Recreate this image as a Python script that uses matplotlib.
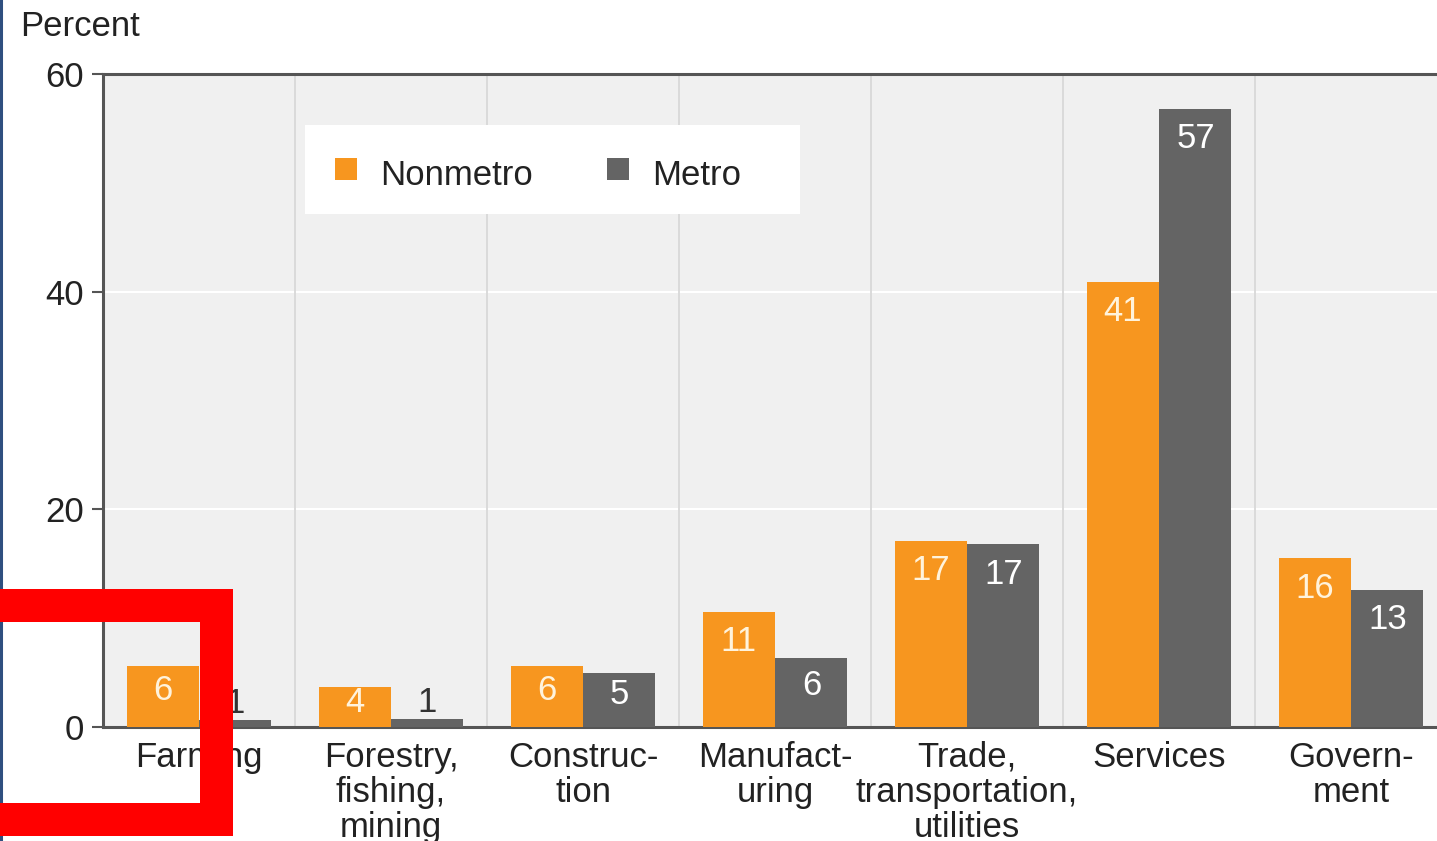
import matplotlib.pyplot as plt
import numpy as np
from matplotlib.lines import Line2D
from matplotlib.patches import Rectangle

plt.rcParams['font.family'] = ['Liberation Sans', 'DejaVu Sans']

# dados
categories = ["Farming", "Forestry,\nfishing,\nmining", "Construc-\ntion",
              "Manufact-\nuring", "Trade,\ntransportation,\nutilities",
              "Services", "Govern-\nment"]
nonmetro = [5.6, 3.7, 5.6, 10.6, 17.1, 40.9, 15.5]
metro = [0.6, 0.7, 5.0, 6.3, 16.8, 56.8, 12.6]
nonmetro_lbl = [6, 4, 6, 11, 17, 41, 16]
metro_lbl = [1, 1, 5, 6, 17, 57, 13]
series_names = ["Nonmetro", "Metro"]

ORANGE = '#F7961F'
GRAY = '#646464'
TXT = '#222222'
FS = 25
W, H = 1437, 841

fig = plt.figure(figsize=(W / 100, H / 100), dpi=100)
# o eixo passa da borda direita (figura original recortada)
ax = fig.add_axes([103 / W, (H - 727) / H, 1344 / W, 653 / H])
ax.set_facecolor('#F0F0F0')

x = np.arange(len(categories))
bw = 0.375
ax.bar(x - 0.19, nonmetro, bw, color=ORANGE, zorder=3)
ax.bar(x + 0.19, metro, bw, color=GRAY, zorder=3)

ax.set_xlim(-0.5, len(categories) - 0.5)
ax.set_ylim(0, 60)
ax.set_yticks([0, 20, 40, 60])
ax.tick_params(axis='y', labelsize=FS, length=8, width=1.5, color='#555555',
               labelcolor=TXT, pad=6)
ax.set_xticks(x)
ax.set_xticklabels(categories, fontsize=FS, color=TXT, linespacing=1.07)
ax.tick_params(axis='x', length=0, pad=10)

# grade: horizontal branca, separadores verticais cinza claro
for yv in [20, 40]:
    ax.axhline(yv, color='white', lw=1.5, zorder=1)
for xv in np.arange(0.5, len(categories) - 0.5):
    ax.axvline(xv, color='#D8D8D8', lw=1.3, zorder=1)

for s in ['left', 'bottom', 'top']:
    ax.spines[s].set_color('#555555')
    ax.spines[s].set_linewidth(2.2)
ax.spines['right'].set_visible(False)

px2pt = 0.72
for i in range(len(categories)):
    for xc, v, lbl, col in [(x[i] - 0.19, nonmetro[i], nonmetro_lbl[i], '#FFF3DC'),
                            (x[i] + 0.19, metro[i], metro_lbl[i], 'white')]:
        hpx = v * 653 / 60
        if v < 2:
            ax.annotate(str(lbl), (xc, v), xytext=(0, 0), textcoords='offset points',
                        ha='center', va='bottom', fontsize=FS, color='#333333', zorder=4)
        else:
            off = min(30, 0.4 * hpx)
            ax.annotate(str(lbl), (xc, v), xytext=(0, -off * px2pt),
                        textcoords='offset points', ha='center', va='center',
                        fontsize=FS, color=col, zorder=4)

# legenda desenhada à mão (caixa branca, quadrados e textos), coords do eixo
ax.add_patch(Rectangle((0.1503, 0.7856), 0.3683, 0.1363, transform=ax.transAxes,
                       facecolor='white', edgecolor='none', zorder=5))
for mx, tx, col, name in [(0.1726, 0.2061, ORANGE, series_names[0]),
                          (0.3750, 0.4085, GRAY, series_names[1])]:
    ax.add_patch(Rectangle((mx, 0.8377), 0.0164, 0.0337, transform=ax.transAxes,
                           facecolor=col, edgecolor='none', zorder=6))
    ax.text(tx, 0.845, name, transform=ax.transAxes, fontsize=FS, color=TXT,
            ha='left', va='center', zorder=6)

fig.text(20 / W, (H - 26) / H, 'Percent', fontsize=FS, color=TXT,
         ha='left', va='center')

# borda azul à esquerda
fig.add_artist(Line2D([1.5 / W, 1.5 / W], [0, 1], color='#2F4F7F', lw=2.2))

# moldura vermelha sobreposta
red = Rectangle((-20 / W, (H - 818.5) / H), 235.5 / W, 214 / H,
                transform=fig.transFigure, fill=False, edgecolor='#FF0000',
                lw=33 * px2pt, joinstyle='miter', zorder=10)
fig.add_artist(red)

fig.savefig('out.png', dpi=100)
